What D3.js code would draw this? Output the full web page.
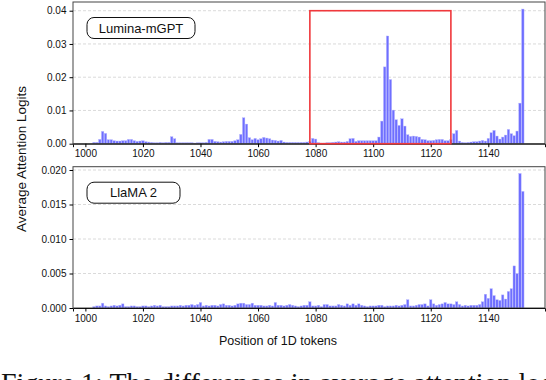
<!DOCTYPE html>
<html>
<head>
<meta charset="utf-8">
<script src="https://cdn.jsdelivr.net/npm/d3@7"></script>
<style>
  body { margin: 0; background: #fff; }
  svg { display: block; font-family: "Liberation Sans", Arial, sans-serif; }
  .tick text { font-size: 10px; fill: #111; }
  .grid line { stroke: #d0d0d0; stroke-dasharray: 3,2; stroke-width: 0.8; }
</style>
</head>
<body>
<div id="chart"></div>
<script>
// token positions start at 1003, one value per token up to 1152
var startPos = 1003;

var luminaVals = [
  .0004,.0004,.0013,.0037,.0031,.0012,.0012,.0009,.0008,.0008,
  .0009,.0009,.0013,.0013,.0009,.0007,.0008,.0009,.0006,.0005,
  .0004,.0003,.0003,.0004,.0003,.0004,.0004,.0021,.0015,.0003,
  .0003,.0003,.0003,.0003,.0003,.0002,.0003,.0003,.0003,.0004,
  .0013,.0013,.0007,.0006,.0005,.0006,.0007,.0007,.0007,.0009,
  .0012,.0028,.0078,.0059,.0018,.0012,.0016,.0012,.0015,.0019,
  .0017,.0015,.0011,.0010,.0008,.0010,.0005,.0004,.0004,.0004,
  .0004,.0004,.0004,.0004,.0005,.0006,.0016,.0014,.0003,.0002,
  .0002,.0003,.0003,.0004,.0005,.0006,.0005,.0005,.0007,.0015,
  .0016,.0007,.0009,.0009,.0009,.0009,.0009,.0009,.0009,.0020,
  .0068,.0231,.0324,.0193,.0101,.0072,.0055,.0075,.0053,.0027,
  .0022,.0023,.0022,.0020,.0013,.0012,.0009,.0009,.0010,.0012,
  .0013,.0013,.0009,.0009,.0012,.0030,.0040,.0008,.0004,.0003,
  .0004,.0005,.0006,.0006,.0008,.0010,.0008,.0016,.0033,.0040,
  .0023,.0014,.0020,.0026,.0043,.0030,.0024,.0038,.0122,.0405
];

var llamaVals = [
  .0002,.0003,.0003,.0007,.0003,.0002,.0003,.0004,.0003,.0004,
  .0006,.0002,.0002,.0003,.0003,.0002,.0002,.0003,.0003,.0002,
  .0003,.0004,.0003,.0004,.0002,.0002,.0002,.0003,.0003,.0003,
  .0004,.0003,.0004,.0004,.0005,.0004,.0005,.0008,.0003,.0004,
  .0003,.0004,.0004,.0003,.0005,.0006,.0004,.0004,.0003,.0004,
  .0006,.0007,.0007,.0005,.0005,.0007,.0004,.0004,.0004,.0003,
  .0003,.0004,.0003,.0008,.0004,.0004,.0003,.0004,.0005,.0004,
  .0003,.0002,.0003,.0004,.0004,.0009,.0003,.0003,.0004,.0002,
  .0005,.0005,.0003,.0003,.0003,.0005,.0004,.0003,.0006,.0004,
  .0006,.0004,.0006,.0004,.0003,.0002,.0003,.0003,.0003,.0004,
  .0004,.0002,.0003,.0003,.0003,.0004,.0003,.0004,.0005,.0012,
  .0003,.0003,.0004,.0005,.0005,.0006,.0003,.0012,.0006,.0004,
  .0005,.0006,.0008,.0006,.0006,.0005,.0009,.0005,.0003,.0004,
  .0003,.0004,.0004,.0004,.0005,.0009,.0020,.0014,.0028,.0018,
  .0012,.0011,.0019,.0013,.0024,.0028,.0061,.0050,.0195,.0169
];

var xTicks = [1000, 1020, 1040, 1060, 1080, 1100, 1120, 1140];
var luminaTicks = [0, 0.01, 0.02, 0.03, 0.04];
var llamaTicks = [0, 0.005, 0.01, 0.015, 0.02];
var highlight = [1078, 1127, 0.04];   // red box: from, to, height

var svgWidth = 546, svgHeight = 380;
var left = 73, right = 545;

var svg = d3.select("#chart").append("svg")
  .attr("width", svgWidth)
  .attr("height", svgHeight);

var x = d3.scaleLinear()
  .domain([995.7, 1159.7])
  .range([left, right]);

function drawPanel(vals, top, bottom, yMax, ticks, fmt, name, boxW) {
  var y = d3.scaleLinear().domain([0, yMax]).range([bottom, top]);
  var g = svg.append("g");

  g.append("g").attr("class", "grid")
    .selectAll("line").data(ticks.slice(1)).enter().append("line")
    .attr("x1", left).attr("x2", right)
    .attr("y1", d => y(d)).attr("y2", d => y(d));

  var data = vals.map((v, i) => ({ pos: startPos + i, val: v }));
  g.selectAll("rect.bar").data(data).enter().append("rect")
    .attr("class", "bar")
    .attr("x", d => x(d.pos - 0.42))
    .attr("width", x(0.84) - x(0))
    .attr("y", d => y(d.val))
    .attr("height", d => bottom - y(d.val))
    .attr("fill", "#5f5fff")
    .attr("fill-opacity", 0.9)
    .attr("stroke", "#b8b8ff")
    .attr("stroke-width", 0.4);

  g.append("rect")
    .attr("x", left).attr("y", top)
    .attr("width", right - left).attr("height", bottom - top)
    .attr("fill", "none").attr("stroke", "#444").attr("stroke-width", 1);

  g.append("g")
    .attr("transform", `translate(0,${bottom})`)
    .call(d3.axisBottom(x).tickValues(xTicks).tickFormat(d3.format("d")).tickSize(3.5).tickPadding(3))
    .call(a => a.select(".domain").attr("stroke", "#111"));

  g.append("g")
    .attr("transform", `translate(${left},0)`)
    .call(d3.axisLeft(y).tickValues(ticks).tickFormat(d3.format(fmt)).tickSize(3.5).tickPadding(3))
    .call(a => a.select(".domain").remove());

  g.append("rect")
    .attr("x", 87).attr("y", top + 15.5)
    .attr("width", boxW).attr("height", 21)
    .attr("rx", 7).attr("ry", 7)
    .attr("fill", "#fff").attr("stroke", "#111").attr("stroke-width", 1);
  g.append("text")
    .attr("x", 87 + boxW / 2).attr("y", top + 30.5)
    .attr("text-anchor", "middle")
    .attr("font-size", 13)
    .attr("fill", "#111")
    .text(name);
  return y;
}

var yTop = drawPanel(luminaVals, 2, 143.7, 0.04262, luminaTicks, ".2f", "Lumina-mGPT", 108);
drawPanel(llamaVals, 166.7, 308, 0.02048, llamaTicks, ".3f", "LlaMA 2", 93);

// highlighted window in the top panel
svg.append("rect")
  .attr("x", x(highlight[0]))
  .attr("y", yTop(highlight[2]))
  .attr("width", x(highlight[1]) - x(highlight[0]))
  .attr("height", yTop(0) - yTop(highlight[2]))
  .attr("fill", "none")
  .attr("stroke", "#f0383c")
  .attr("stroke-width", 1.6);

svg.append("text")
  .attr("transform", "translate(26,159) rotate(-90)")
  .attr("text-anchor", "middle")
  .attr("font-size", 13.5)
  .attr("fill", "#111")
  .text("Average Attention Logits");

svg.append("text")
  .attr("x", 278).attr("y", 345)
  .attr("text-anchor", "middle")
  .attr("font-size", 12.5)
  .attr("fill", "#111")
  .text("Position of 1D tokens");

svg.append("text")
  .attr("x", 1).attr("y", 392)
  .attr("font-family", "'Liberation Serif', 'Times New Roman', serif")
  .attr("font-size", 28)
  .attr("fill", "#111")
  .text("Figure 1: The differences in average attention logits");
</script>
</body>
</html>
